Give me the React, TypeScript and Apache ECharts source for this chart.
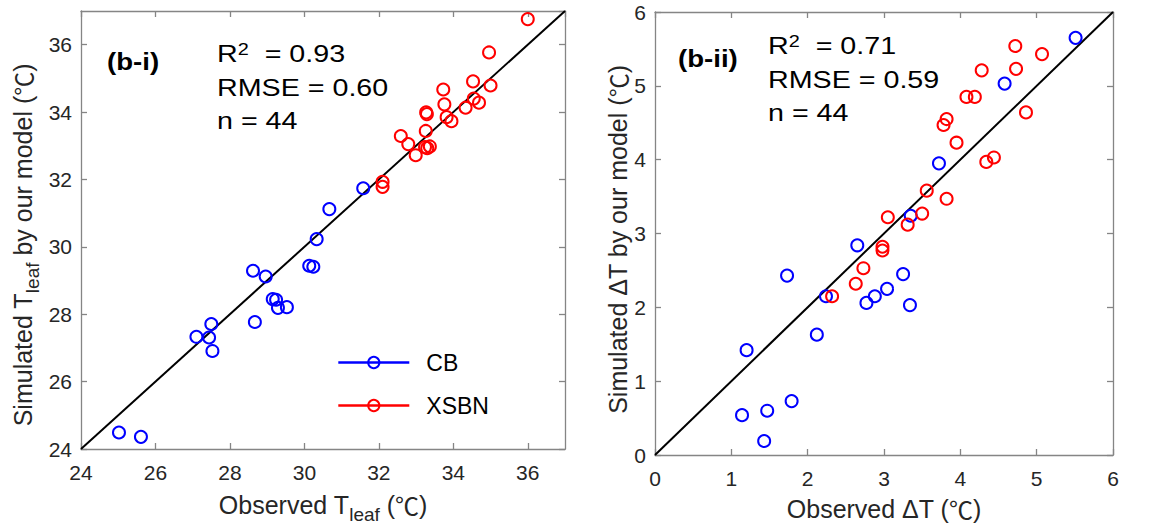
import React, { useEffect, useRef } from "react";
import * as echarts from "echarts";

// ---- Data ----
const leftCB: number[][] = [
  [31.58, 31.74], [30.67, 31.12], [30.33, 30.23], [30.13, 29.44], [30.24, 29.41],
  [28.62, 29.29], [28.96, 29.12], [29.15, 28.45], [29.24, 28.43], [29.29, 28.19],
  [29.53, 28.21], [28.67, 27.77], [27.5, 27.71], [27.1, 27.33], [27.44, 27.31],
  [27.53, 26.91], [25.02, 24.49], [25.61, 24.36],
];
const leftXSBN: number[][] = [
  [36.0, 36.76], [34.96, 35.77], [34.53, 34.91], [35.0, 34.79], [33.73, 34.67],
  [33.76, 34.23], [34.55, 34.4], [34.69, 34.28], [34.33, 34.13], [33.27, 33.99],
  [33.29, 33.94], [33.82, 33.85], [33.95, 33.73], [33.26, 33.44], [32.59, 33.29],
  [32.79, 33.05], [33.24, 32.96], [33.37, 32.98], [33.3, 32.93], [32.99, 32.72],
  [32.1, 31.93], [32.1, 31.78],
];
const rightCB: number[][] = [
  [5.51, 5.65], [4.58, 5.03], [3.72, 3.95], [3.35, 3.24], [2.65, 2.84],
  [1.73, 2.43], [3.25, 2.45], [2.24, 2.15], [3.04, 2.25], [2.88, 2.15],
  [2.77, 2.06], [3.34, 2.03], [2.12, 1.63], [1.2, 1.42], [1.79, 0.73],
  [1.47, 0.6], [1.14, 0.54], [1.43, 0.19],
];
const rightXSBN: number[][] = [
  [4.72, 5.54], [5.07, 5.43], [4.73, 5.23], [4.28, 5.21], [4.08, 4.85],
  [4.19, 4.85], [4.86, 4.64], [3.82, 4.55], [3.78, 4.47], [3.95, 4.23],
  [4.34, 3.97], [4.44, 4.03], [3.56, 3.58], [3.82, 3.47], [3.5, 3.27],
  [3.05, 3.22], [3.31, 3.12], [2.98, 2.82], [2.98, 2.77], [2.73, 2.53],
  [2.63, 2.32], [2.32, 2.15],
];
const leftRange = [24, 37];
const rightRange = [0, 6];
const leftOneToOne: number[][] = [[24, 24], [37, 37]];
const rightOneToOne: number[][] = [[0, 0], [6, 6]];
const leftStats = { label: "(b-i)", r2: "0.93", rmse: "0.60", n: "44" };
const rightStats = { label: "(b-ii)", r2: "0.71", rmse: "0.59", n: "44" };
const seriesNames = ["CB", "XSBN"];

const FONT = "Arial, 'Liberation Sans', Helvetica, sans-serif";
const CJK = "'Noto Sans CJK SC', 'Noto Sans CJK JP', sans-serif";
const AXIS_COLOR = "#858585";
const LABEL_COLOR = "#262626";
const BLUE = "#0000ff";
const RED = "#ff0000";

export default function App() {
  const ref = useRef<HTMLDivElement>(null);
  useEffect(() => {
    if (!ref.current) return;
    const chart = echarts.init(ref.current, null, { renderer: "svg" });

    const grids = [
      { left: 81, top: 11, width: 484, height: 442.5 },
      { left: 655, top: 12, width: 458, height: 443 },
    ];

    const nameRich = {
      a: { fontSize: 25, fontFamily: FONT, color: LABEL_COLOR },
      c: { fontSize: 24, fontFamily: CJK, color: LABEL_COLOR },
      sub: { fontSize: 19, fontFamily: FONT, color: LABEL_COLOR, padding: [20, 0, 0, 0] },
    };

    const baseAxis = (gridIndex: number, min: number, max: number, interval: number) => ({
      gridIndex,
      type: "value",
      min,
      max,
      interval,
      splitLine: { show: false },
      axisLine: { show: true, onZero: false, lineStyle: { color: AXIS_COLOR, width: 1.3 } },
      axisTick: { show: true, inside: true, length: 6, lineStyle: { color: AXIS_COLOR, width: 1.3 } },
      axisLabel: {
        show: true,
        color: LABEL_COLOR,
        fontSize: 21,
        fontFamily: FONT,
        showMaxLabel: max % interval === 0,
      },
    });

    const xAxis: any[] = [
      {
        ...baseAxis(0, leftRange[0], leftRange[1], 2),
        position: "bottom",
        name: "{a|Observed T}{sub|leaf}{a| (}{c|℃}{a|)}",
        nameLocation: "middle",
        nameGap: 36,
        nameTextStyle: { rich: nameRich },
      },
      {
        ...baseAxis(0, leftRange[0], leftRange[1], 2),
        position: "top",
        axisLabel: { show: false },
      },
      {
        ...baseAxis(1, rightRange[0], rightRange[1], 1),
        position: "bottom",
        name: "{a|Observed ΔT (}{c|℃}{a|)}",
        nameLocation: "middle",
        nameGap: 41,
        nameTextStyle: { rich: nameRich },
      },
      {
        ...baseAxis(1, rightRange[0], rightRange[1], 1),
        position: "top",
        axisLabel: { show: false },
      },
    ];
    xAxis[0].axisLabel.margin = 13;
    xAxis[2].axisLabel.margin = 13;

    const yAxis: any[] = [
      {
        ...baseAxis(0, leftRange[0], leftRange[1], 2),
        position: "left",
        name: "{a|Simulated T}{sub|leaf}{a| by our model (}{c|℃}{a|)}",
        nameLocation: "middle",
        nameGap: 39,
        nameTextStyle: { rich: nameRich, padding: [0, 30, 0, 0] },
      },
      {
        ...baseAxis(0, leftRange[0], leftRange[1], 2),
        position: "right",
        axisLabel: { show: false },
      },
      {
        ...baseAxis(1, rightRange[0], rightRange[1], 1),
        position: "left",
        name: "{a|Simulated ΔT by our model (}{c|℃}{a|)}",
        nameLocation: "middle",
        nameGap: 22,
        nameTextStyle: { rich: nameRich, padding: [0, 12, 0, 0] },
      },
      {
        ...baseAxis(1, rightRange[0], rightRange[1], 1),
        position: "right",
        axisLabel: { show: false },
      },
    ];
    yAxis[0].axisLabel.margin = 9;
    yAxis[2].axisLabel.margin = 9;

    const pointSeries = (name: string, color: string, data: number[][], axisIdx: number) => ({
      name,
      type: "line",
      xAxisIndex: axisIdx,
      yAxisIndex: axisIdx,
      data,
      symbol: "circle",
      symbolSize: 12,
      showSymbol: true,
      showAllSymbol: true,
      lineStyle: { color, width: 0, opacity: 0 },
      itemStyle: { color: "transparent", borderColor: color, borderWidth: 2 },
      emphasis: { disabled: true },
      z: 3,
    });

    const oneToOne = (data: number[][], axisIdx: number) => ({
      name: "1:1",
      type: "line",
      xAxisIndex: axisIdx,
      yAxisIndex: axisIdx,
      data,
      symbol: "none",
      lineStyle: { color: "#000", width: 2 },
      emphasis: { disabled: true },
      z: 2,
    });

    const SX = 1.17;
    const statText = (
      s: typeof leftStats,
      lx: number,
      ly: number,
      x: number,
      rows: number[]
    ) => [
      {
        type: "text",
        x: lx,
        y: ly,
        scaleX: 1.2,
        style: {
          text: s.label,
          fontSize: 23,
          fontWeight: "bold",
          fontFamily: FONT,
          fill: "#000",
          textVerticalAlign: "middle",
        },
      },
      {
        type: "text",
        x,
        y: rows[0],
        scaleX: SX,
        style: {
          text: "{a|R}{s|2}{a|  = " + s.r2 + "}",
          fill: "#000",
          textVerticalAlign: "middle",
          rich: {
            a: { fontSize: 24.5, fontFamily: FONT, fill: "#000" },
            s: { fontSize: 17, fontFamily: FONT, fill: "#000", padding: [0, 0, 10, 0] },
          },
        },
      },
      {
        type: "text",
        x,
        y: rows[1],
        scaleX: SX,
        style: {
          text: "RMSE = " + s.rmse,
          fontSize: 24.5,
          fontFamily: FONT,
          fill: "#000",
          textVerticalAlign: "middle",
        },
      },
      {
        type: "text",
        x,
        y: rows[2],
        scaleX: SX,
        style: {
          text: "n = " + s.n,
          fontSize: 24.5,
          fontFamily: FONT,
          fill: "#000",
          textVerticalAlign: "middle",
        },
      },
    ];

    chart.setOption({
      animation: false,
      backgroundColor: "#fff",
      grid: grids,
      xAxis,
      yAxis,
      legend: {
        data: seriesNames,
        left: 332,
        top: 345,
        orient: "vertical",
        itemWidth: 71,
        itemHeight: 14,
        itemGap: 18,
        selectedMode: false,
        textStyle: {
          fontSize: 23,
          fontFamily: FONT,
          color: "#000",
          padding: [0, 0, 0, 12],
          lineHeight: 25,
        },
        lineStyle: { width: 2.6, opacity: 1 },
      },
      series: [
        oneToOne(leftOneToOne, 0),
        oneToOne(rightOneToOne, 2),
        pointSeries(seriesNames[0], BLUE, leftCB, 0),
        pointSeries(seriesNames[1], RED, leftXSBN, 0),
        pointSeries(seriesNames[0], BLUE, rightCB, 2),
        pointSeries(seriesNames[1], RED, rightXSBN, 2),
      ],
      graphic: [
        ...statText(leftStats, 107, 62, 217, [54, 88, 121]),
        ...statText(rightStats, 678, 59, 768, [46, 80, 113]),
      ],
    });

    return () => chart.dispose();
  }, []);

  return (
    <div
      ref={ref}
      style={{ position: "absolute", left: 0, top: 0, width: 1153, height: 529 }}
    />
  );
}
